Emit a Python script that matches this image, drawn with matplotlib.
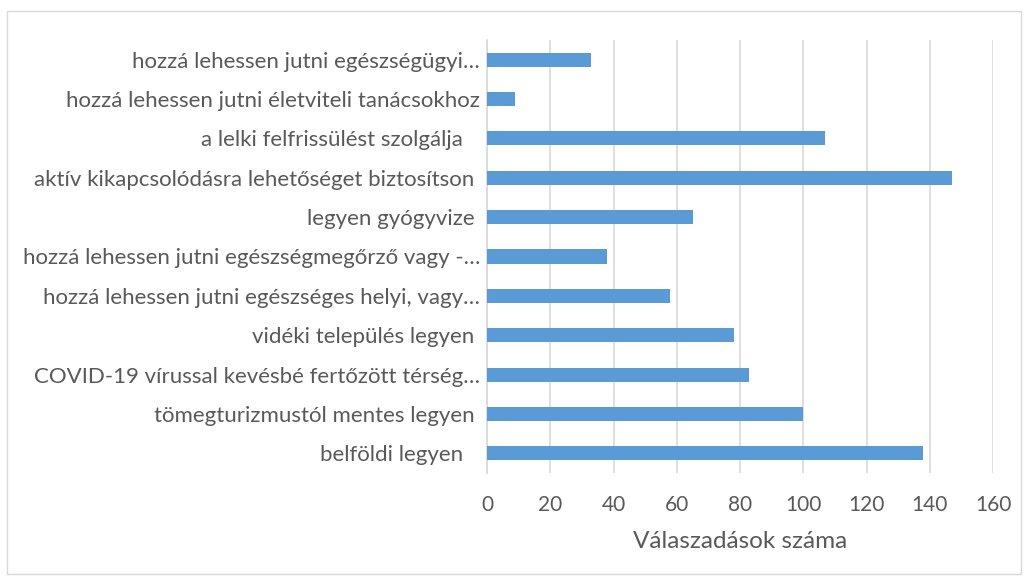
import matplotlib
matplotlib.use("Agg")
import matplotlib.pyplot as plt
from matplotlib.patches import Rectangle

categories = [
    "belföldi legyen   ",
    "tömegturizmustól mentes legyen ",
    "COVID-19 vírussal kevésbé fertőzött térség…",
    "vidéki település legyen ",
    "hozzá lehessen jutni egészséges helyi, vagy…",
    "hozzá lehessen jutni egészségmegőrző vagy -…",
    "legyen gyógyvize ",
    "aktív kikapcsolódásra lehetőséget biztosítson ",
    "a lelki felfrissülést szolgálja   ",
    "hozzá lehessen jutni életviteli tanácsokhoz",
    "hozzá lehessen jutni egészségügyi…",
]
values = [138, 100, 83, 78, 58, 38, 65, 147, 107, 9, 33]
xticks = [0, 20, 40, 60, 80, 100, 120, 140, 160]
xlabel = "Válaszadások száma"

plt.rcParams['font.family'] = ['Lato', 'DejaVu Sans']
txt = "#595959"

fig = plt.figure(figsize=(10.28, 5.83), dpi=100)
ax = fig.add_axes([487/1028, 1-473/583, (993-487)/1028, (473-40)/583])

ypos = list(range(len(categories)))
ax.barh(ypos, values, height=0.36, color="#5B9BD5", zorder=3)
ax.set_xlim(0, 160)
ax.set_ylim(-0.5, len(categories)-0.5)
ax.set_xticks(xticks)
ax.set_xticklabels([str(t) for t in xticks], fontsize=15, color=txt)
ax.set_yticks(ypos)
ax.set_yticklabels(categories, fontsize=16, color=txt)
ax.tick_params(axis='both', length=0)
ax.tick_params(axis='y', pad=5)
ax.tick_params(axis='x', pad=16)
ax.grid(axis='x', color="#D9D9D9", linewidth=1.2, zorder=0)
for s in ['top', 'right', 'bottom']:
    ax.spines[s].set_visible(False)
ax.spines['left'].set_color("#D9D9D9")
ax.spines['left'].set_linewidth(1.2)
ax.set_xlabel(xlabel, fontsize=17.5, color=txt, labelpad=11)

fig.patches.append(Rectangle((7/1028, 1-574/583), (1021-7)/1028, (574-11)/583,
                             transform=fig.transFigure, fill=False,
                             edgecolor="#D9D9D9", linewidth=1))

fig.savefig("out.png", dpi=100)
